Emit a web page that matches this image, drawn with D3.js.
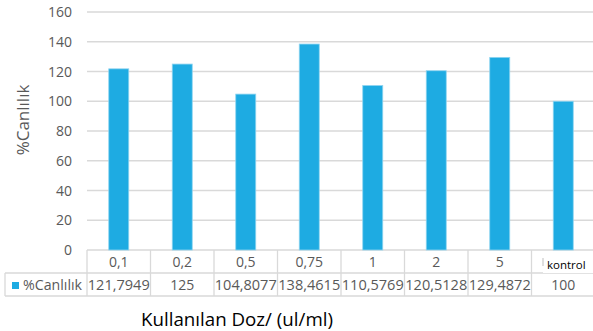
<!DOCTYPE html>
<html>
<head>
<meta charset="utf-8">
<script src="https://cdn.jsdelivr.net/npm/d3@7"></script>
<style>
  body { margin: 0; background: #fff; }
  svg { display: block; font-family: "Open Sans", "DejaVu Sans", sans-serif; }
</style>
</head>
<body>
<svg width="593" height="331"></svg>
<script>
// doz kategorileri ve degerler
var dozlar = ["0,1", "0,2", "0,5", "0,75", "1", "2", "5", "kontrol"]
var canlilik = [121.7949, 125, 104.8077, 138.4615, 110.5769, 120.5128, 129.4872, 100]
var etiketler = ["121,7949", "125", "104,8077", "138,4615", "110,5769", "120,5128", "129,4872", "100"]
var yTicks = [0, 20, 40, 60, 80, 100, 120, 140, 160]
var seriAdi = "%Canlılık"

var svg = d3.select("svg")
var renk = "#1eabe2"

var x = d3.scaleBand().domain(dozlar).range([87, 595])
var y = d3.scaleLinear().domain([0, 160]).range([250, 12])

// grid
svg.append("g").selectAll("line").data(yTicks)
  .enter().append("line")
  .attr("x1", 87).attr("x2", 593)
  .attr("y1", d => y(d)).attr("y2", d => y(d))
  .attr("stroke", "#d9d9d9").attr("stroke-width", 1.3)

svg.append("g").selectAll("text").data(yTicks)
  .enter().append("text")
  .attr("x", 72).attr("y", d => y(d) + 5)
  .attr("text-anchor", "end")
  .attr("font-size", 14).attr("fill", "#595959")
  .text(d => d)

// barlar
svg.append("g").selectAll("rect").data(canlilik)
  .enter().append("rect")
  .attr("x", (d, i) => x(dozlar[i]) + x.bandwidth() / 2 - 10)
  .attr("width", 20)
  .attr("y", d => y(d))
  .attr("height", d => y(0) - y(d))
  .attr("fill", renk)
  .attr("stroke", "#8fd4f0").attr("stroke-width", 0.8)

// tablo
var tablo = svg.append("g")
var cizgi = "#d9d9d9"
var r1 = 250, r2 = 273, r3 = 296
tablo.append("line").attr("x1", 5).attr("x2", 593).attr("y1", r2).attr("y2", r2).attr("stroke", cizgi).attr("stroke-width", 1.3)
tablo.append("line").attr("x1", 5).attr("x2", 593).attr("y1", r3).attr("y2", r3).attr("stroke", cizgi).attr("stroke-width", 1.3)
tablo.append("line").attr("x1", 5).attr("x2", 5).attr("y1", r2).attr("y2", r3).attr("stroke", cizgi).attr("stroke-width", 1.3)
tablo.selectAll("line.v").data(dozlar.slice(0, 8))
  .enter().append("line").attr("class", "v")
  .attr("x1", d => x(d)).attr("x2", d => x(d))
  .attr("y1", r1).attr("y2", r3)
  .attr("stroke", cizgi).attr("stroke-width", 1.3)

// kontrol hucresinin ustunde beyaz kutu
tablo.append("rect").attr("x", 543).attr("y", r1 + 1).attr("width", 50).attr("height", r2 - r1 - 1).attr("fill", "#fff")
tablo.append("line").attr("x1", 543).attr("x2", 543).attr("y1", 258).attr("y2", 266).attr("stroke", "#bfbfbf")

tablo.selectAll("text.k").data(dozlar)
  .enter().append("text").attr("class", "k")
  .attr("x", d => x(d) + x.bandwidth() / 2 + (d == "kontrol" ? 3 : 0))
  .attr("y", d => d == "kontrol" ? 269 : 267)
  .attr("text-anchor", "middle")
  .attr("font-size", d => d == "kontrol" ? 11.5 : 14)
  .attr("fill", d => d == "kontrol" ? "#000" : "#595959")
  .text(d => d)

tablo.selectAll("text.d").data(etiketler)
  .enter().append("text").attr("class", "d")
  .attr("x", (d, i) => x(dozlar[i]) + x.bandwidth() / 2)
  .attr("y", 290)
  .attr("text-anchor", "middle")
  .attr("font-size", 14).attr("fill", "#595959")
  .attr("textLength", d => d.length > 5 ? 62 : null)
  .attr("lengthAdjust", "spacingAndGlyphs")
  .text(d => d)

tablo.append("rect").attr("x", 12).attr("y", 282).attr("width", 7).attr("height", 7).attr("fill", renk)
tablo.append("text").attr("x", 23).attr("y", 290)
  .attr("font-size", 14).attr("fill", "#595959")
  .attr("textLength", 59).attr("lengthAdjust", "spacingAndGlyphs")
  .text(seriAdi)

// eksen basliklari
svg.append("text")
  .attr("transform", "translate(29,120) rotate(-90)")
  .attr("text-anchor", "middle")
  .attr("font-size", 17).attr("fill", "#595959")
  .text(seriAdi)

svg.append("text")
  .attr("x", 237).attr("y", 326)
  .attr("text-anchor", "middle")
  .attr("font-size", 18.5).attr("fill", "#000")
  .attr("textLength", 192).attr("lengthAdjust", "spacingAndGlyphs")
  .text("Kullanılan Doz/ (ul/ml)")
</script>
</body>
</html>
